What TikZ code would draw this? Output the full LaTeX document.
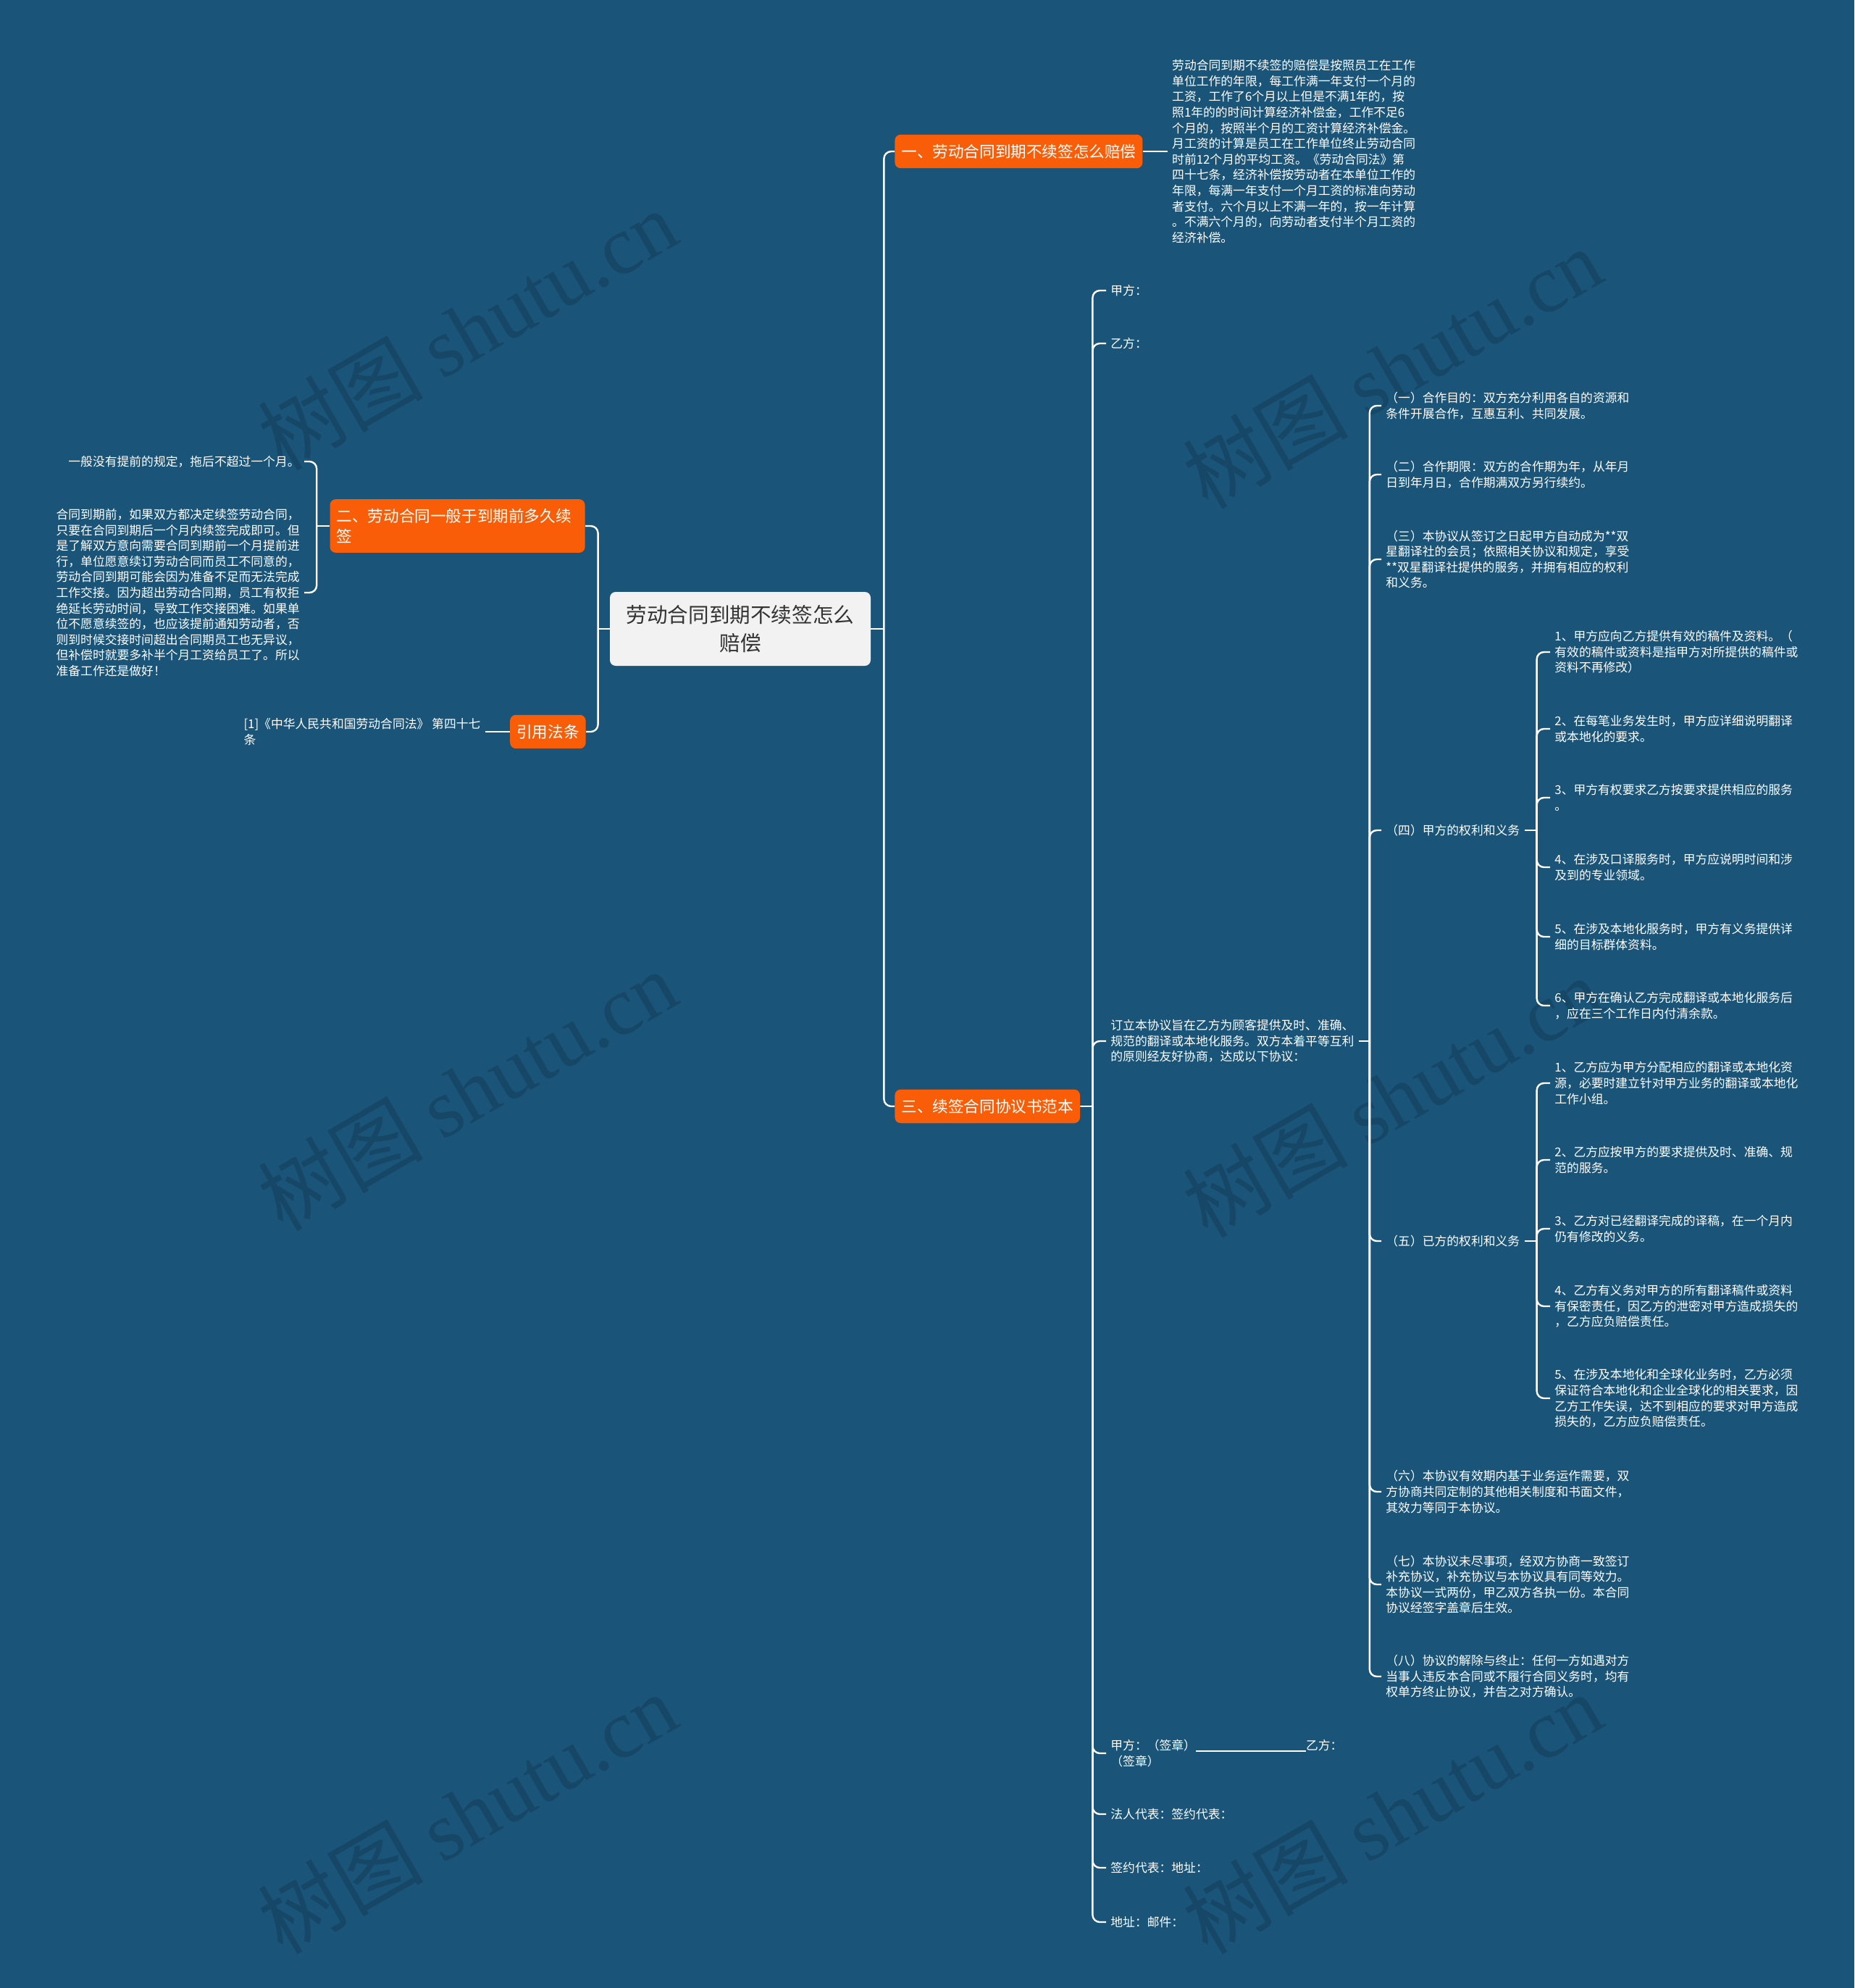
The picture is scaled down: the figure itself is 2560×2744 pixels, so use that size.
\documentclass[tikz,border=0pt]{standalone}
\usepackage{fontspec}
\setmainfont{Noto Sans CJK SC}
\newfontfamily\wmfont{Liberation Serif}
\usepackage{tikz}
\usetikzlibrary{positioning}

\definecolor{bgblue}{HTML}{1A5479}
\definecolor{topicorange}{HTML}{F95D08}
\definecolor{rootgray}{HTML}{F2F2F2}
\definecolor{rootink}{HTML}{333333}

\begin{document}
\begin{tikzpicture}[x=0.5pt,y=-0.5pt,
  root/.style={rectangle,rounded corners=4pt,fill=rootgray,text=rootink,align=center,
    font=\fontsize{14.3}{19.3}\selectfont,minimum width=180pt,minimum height=51pt},
  topic/.style={rectangle,rounded corners=4pt,fill=topicorange,text=white,align=left,
    font=\fontsize{10.8}{14}\selectfont,inner xsep=4.5pt,inner ysep=6.6pt},
  leaf/.style={text=white,align=left,font=\fontsize{8.4}{10.8}\selectfont,
    inner xsep=3pt,inner ysep=0pt},
  wmark/.style={text=bgblue!84!black,font=\fontsize{57}{57}\selectfont,rotate=30},
  link/.style={draw=white,line width=1.2pt},
  fork/.style={rounded corners=5pt,to path={|- (\tikztotarget)}}]

\fill[bgblue] (0,0) rectangle (2560,2744);
\useasboundingbox (0,0) rectangle (2560,2744);

\node[wmark] (wm1) at (645,455) {树图 {\wmfont shutu.cn}};
\node[wmark] (wm2) at (645,1505) {树图 {\wmfont shutu.cn}};
\node[wmark] (wm3) at (645,2503) {树图 {\wmfont shutu.cn}};
\node[wmark] (wm4) at (1922,508) {树图 {\wmfont shutu.cn}};
\node[wmark] (wm5) at (1922,1514) {树图 {\wmfont shutu.cn}};
\node[wmark] (wm6) at (1922,2503) {树图 {\wmfont shutu.cn}};

\node[root] (root) at (1022,868) {劳动合同到期不续签怎么\\赔偿};

% right side
\node[topic,anchor=west] (b1) at (1235,209) {一、劳动合同到期不续签怎么赔偿};
\node[leaf] (s1) [right=17pt of b1] {劳动合同到期不续签的赔偿是按照员工在工作\\单位工作的年限，每工作满一年支付一个月的\\工资，工作了6个月以上但是不满1年的，按\\照1年的的时间计算经济补偿金，工作不足6\\个月的，按照半个月的工资计算经济补偿金。\\月工资的计算是员工在工作单位终止劳动合同\\时前12个月的平均工资。《劳动合同法》第\\四十七条，经济补偿按劳动者在本单位工作的\\年限，每满一年支付一个月工资的标准向劳动\\者支付。六个月以上不满一年的，按一年计算\\。不满六个月的，向劳动者支付半个月工资的\\经济补偿。};

\node[topic,anchor=west] (b3) at (1235,1527) {三、续签合同协议书范本};
\node[leaf,anchor=west] (c1) at (1527,401) {甲方：};
\node[leaf,anchor=west] (c2) at (1527,474) {乙方：};
\node[leaf,anchor=west] (c3) at (1527,1437) {订立本协议旨在乙方为顾客提供及时、准确、\\规范的翻译或本地化服务。双方本着平等互利\\的原则经友好协商，达成以下协议：};
\node[leaf,anchor=west] (c4) at (1527,2420) {甲方：（签章）\rule[-1pt]{76pt}{0.6pt}乙方：\\（签章）};
\node[leaf,anchor=west] (c5) at (1527,2504) {法人代表：签约代表：};
\node[leaf,anchor=west] (c6) at (1527,2578) {签约代表：地址：};
\node[leaf,anchor=west] (c7) at (1527,2653) {地址：邮件：};

\node[leaf,anchor=west] (d1) at (1907,560) {（一）合作目的：双方充分利用各自的资源和\\条件开展合作，互惠互利、共同发展。};
\node[leaf,anchor=west] (d2) at (1907,655) {（二）合作期限：双方的合作期为年，从年月\\日到年月日，合作期满双方另行续约。};
\node[leaf,anchor=west] (d3) at (1907,772) {（三）本协议从签订之日起甲方自动成为**双\\星翻译社的会员；依照相关协议和规定，享受\\**双星翻译社提供的服务，并拥有相应的权利\\和义务。};
\node[leaf,anchor=west] (d4) at (1907,1146) {（四）甲方的权利和义务};
\node[leaf,anchor=west] (d5) at (1907,1713) {（五）已方的权利和义务};
\node[leaf,anchor=west] (d6) at (1907,2059) {（六）本协议有效期内基于业务运作需要，双\\方协商共同定制的其他相关制度和书面文件，\\其效力等同于本协议。};
\node[leaf,anchor=west] (d7) at (1907,2187) {（七）本协议未尽事项，经双方协商一致签订\\补充协议，补充协议与本协议具有同等效力。\\本协议一式两份，甲乙双方各执一份。本合同\\协议经签字盖章后生效。};
\node[leaf,anchor=west] (d8) at (1907,2314) {（八）协议的解除与终止：任何一方如遇对方\\当事人违反本合同或不履行合同义务时，均有\\权单方终止协议，并告之对方确认。};

\node[leaf,anchor=west] (e1) at (2140,900) {1、甲方应向乙方提供有效的稿件及资料。（\\有效的稿件或资料是指甲方对所提供的稿件或\\资料不再修改）};
\node[leaf,anchor=west] (e2) at (2140,1006) {2、在每笔业务发生时，甲方应详细说明翻译\\或本地化的要求。};
\node[leaf,anchor=west] (e3) at (2140,1101) {3、甲方有权要求乙方按要求提供相应的服务\\。};
\node[leaf,anchor=west] (e4) at (2140,1197) {4、在涉及口译服务时，甲方应说明时间和涉\\及到的专业领域。};
\node[leaf,anchor=west] (e5) at (2140,1293) {5、在涉及本地化服务时，甲方有义务提供详\\细的目标群体资料。};
\node[leaf,anchor=west] (e6) at (2140,1388) {6、甲方在确认乙方完成翻译或本地化服务后\\，应在三个工作日内付清余款。};

\node[leaf,anchor=west] (f1) at (2140,1495) {1、乙方应为甲方分配相应的翻译或本地化资\\源，必要时建立针对甲方业务的翻译或本地化\\工作小组。};
\node[leaf,anchor=west] (f2) at (2140,1601) {2、乙方应按甲方的要求提供及时、准确、规\\范的服务。};
\node[leaf,anchor=west] (f3) at (2140,1696) {3、乙方对已经翻译完成的译稿，在一个月内\\仍有修改的义务。};
\node[leaf,anchor=west] (f4) at (2140,1803) {4、乙方有义务对甲方的所有翻译稿件或资料\\有保密责任，因乙方的泄密对甲方造成损失的\\，乙方应负赔偿责任。};
\node[leaf,anchor=west] (f5) at (2140,1930) {5、在涉及本地化和全球化业务时，乙方必须\\保证符合本地化和企业全球化的相关要求，因\\乙方工作失误，达不到相应的要求对甲方造成\\损失的，乙方应负赔偿责任。};

% left side
\node[topic,anchor=east,text width=167pt] (b2) at (808,726) {二、劳动合同一般于到期前多久续\\签};
\node[leaf,anchor=east] (g1) at (420,637) {一般没有提前的规定，拖后不超过一个月。};
\node[leaf,anchor=east] (g2) at (420,818) {合同到期前，如果双方都决定续签劳动合同，\\只要在合同到期后一个月内续签完成即可。但\\是了解双方意向需要合同到期前一个月提前进\\行，单位愿意续订劳动合同而员工不同意的，\\劳动合同到期可能会因为准备不足而无法完成\\工作交接。因为超出劳动合同期，员工有权拒\\绝延长劳动时间，导致工作交接困难。如果单\\位不愿意续签的，也应该提前通知劳动者，否\\则到时候交接时间超出合同期员工也无异议，\\但补偿时就要多补半个月工资给员工了。所以\\准备工作还是做好！};
\node[topic,anchor=east] (b4) at (809,1010) {引用法条};
\node[leaf] (h1) [left=17pt of b4] {[1]《中华人民共和国劳动合同法》 第四十七\\条};

\coordinate (r0) at ([xshift=9pt]root.east);
\coordinate (l0) at ([xshift=-8pt]root.west);
\coordinate (k2) at ([xshift=-9pt]b2.west);
\coordinate (k3) at ([xshift=8.5pt]b3.east);
\coordinate (kc) at ([xshift=7.5pt]c3.east);
\coordinate (kd4) at ([xshift=8.5pt]d4.east);
\coordinate (kd5) at ([xshift=8.5pt]d5.east);

\path[link]
(root.east) edge (r0)
(r0) edge[fork] (b1.west)
(r0) edge[fork] (b3.west)
(root.west) edge (l0)
(l0) edge[fork] (b2.east)
(l0) edge[fork] (b4.east)

(b1.east) edge (s1.west)
(b4.west) edge (h1.east)

(b2.west) edge (k2)
(k2) edge[fork] (g1.east)
(k2) edge[fork] (g2.east)

(b3.east) edge (k3)
(k3) edge[fork] (c1.west)
(k3) edge[fork] (c2.west)
(k3) edge[fork] (c3.west)
(k3) edge[fork] (c4.west)
(k3) edge[fork] (c5.west)
(k3) edge[fork] (c6.west)
(k3) edge[fork] (c7.west)

(c3.east) edge (kc)
(kc) edge[fork] (d1.west)
(kc) edge[fork] (d2.west)
(kc) edge[fork] (d3.west)
(kc) edge[fork] (d4.west)
(kc) edge[fork] (d5.west)
(kc) edge[fork] (d6.west)
(kc) edge[fork] (d7.west)
(kc) edge[fork] (d8.west)

(d4.east) edge (kd4)
(kd4) edge[fork] (e1.west)
(kd4) edge[fork] (e2.west)
(kd4) edge[fork] (e3.west)
(kd4) edge[fork] (e4.west)
(kd4) edge[fork] (e5.west)
(kd4) edge[fork] (e6.west)

(d5.east) edge (kd5)
(kd5) edge[fork] (f1.west)
(kd5) edge[fork] (f2.west)
(kd5) edge[fork] (f3.west)
(kd5) edge[fork] (f4.west)
(kd5) edge[fork] (f5.west)
; %end path
\end{tikzpicture}
\end{document}
